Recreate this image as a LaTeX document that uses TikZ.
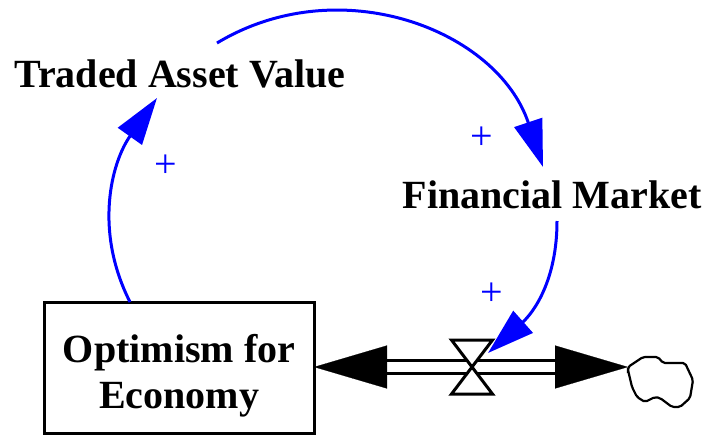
\documentclass[tikz,border=0pt]{standalone}
\usepackage{fontspec}
\setmainfont{Liberation Serif}
\usetikzlibrary{arrows.meta,calc}
\begin{document}
\begin{tikzpicture}[x=1pt,y=-1pt,
  varname/.style={font=\fontsize{40}{46}\selectfont\bfseries, inner sep=0pt},
  stockbox/.style={draw, line width=3pt, minimum width=270pt, minimum height=131pt,
    inner sep=0pt, outer sep=0pt},
  link/.style={blue, line width=3pt, -{Triangle[length=47pt,width=29pt]}},
  polarity/.style={blue, font=\fontsize{40}{44}\selectfont, inner sep=0pt},
  pipeline/.style={line width=3pt},
  flowhead/.style={white, line width=0.2pt,
    -{Triangle[length=73pt,width=43pt,color=black]}},
]
\useasboundingbox (0,0) rectangle (708,434);

% stock and variables
\node[stockbox] (box) at (179,367.5) {};
\node[varname, align=center, yshift=-8pt] (boxtext) at (box.center) {Optimism for\\Economy};
\node[varname, anchor=base] (tav) at (180,87) {Traded Asset Value};
\node[varname, anchor=base] (fm) at (552,208) {Financial Market};

% flow: pipe between the two arrowheads, valve, cloud
\coordinate (valve) at (472,367);
\coordinate (cloud) at (628,367);
\draw[pipeline] ($(box.east|-valve)+(72,-6.5)$) -- ($(cloud)+(-72,-6.5)$);
\draw[pipeline] ($(box.east|-valve)+(72,6.5)$) -- ($(cloud)+(-72,6.5)$);
\draw[flowhead] ($(valve)+(-30,0)$) -- (box.east|-valve);
\draw[flowhead] ($(valve)+(30,0)$) -- (cloud);
\draw[pipeline, fill=white, line join=miter]
  ($(valve)+(-20.5,-27)$) -- ++(41,0) -- ($(valve)+(-20.5,27)$) -- ++(41,0) -- cycle;
\draw[line width=2.2pt, rounded corners=2pt]
  (cloud) -- (643,357) -- (658,357) -- (663,363) -- (685,363) -- (693,380)
  -- (690,398) -- (680,407) -- (672,407) -- (660,398) -- (655,397)
  -- (645,402) -- (637,397) -- (632,387) -- (628,370) -- cycle;

% causal links
\draw[link] ($(box.north)+(-49,0)$)
  .. controls +(-36,-71) and +(-46,65) .. ($(tav.base)+(-23,11)$);
\draw[link] ($(tav.base)+(37,-44)$)
  .. controls +(123,-74) and +(-45.5,-137) .. ($(fm.base)+(-9,-41)$);
\draw[link] ($(fm.base)+(5,13)$)
  .. controls +(0,60) and +(45,-40) .. ($(valve)+(16,-14)$);

% polarities
\node[polarity] (p1) at (166,166) {+};
\node[polarity] (p2) at (482,138) {+};
\node[polarity] (p3) at (492,294) {+};
\end{tikzpicture}
\end{document}
